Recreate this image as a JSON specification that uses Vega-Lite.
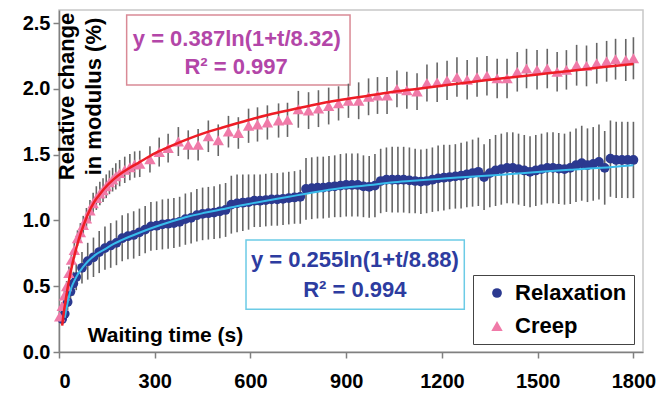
{
  "$schema": "https://vega.github.io/schema/vega-lite/v6.json",
  "width": 584,
  "height": 342,
  "autosize": {"type": "none"},
  "padding": {"left": 59, "top": 10, "right": 16, "bottom": 42},
  "background": "white",
  "config": {
    "view": {"stroke": "#c8c8c8", "strokeWidth": 1.5},
    "font": "Liberation Sans",
    "axis": {
      "grid": false,
      "domainColor": "#808080",
      "domainWidth": 1.5,
      "tickColor": "#808080",
      "tickWidth": 1.5,
      "tickSize": 6,
      "labelFont": "Liberation Sans",
      "labelFontWeight": "bold",
      "labelFontSize": 20,
      "labelColor": "#000000",
      "titleFont": "Liberation Sans",
      "titleFontWeight": "bold",
      "titleFontSize": 21,
      "titleColor": "#000000"
    }
  },
  "datasets": {
    "pts": [
      {"series": "Relaxation", "t": 10, "v": 0.25, "e": 0.04},
      {"series": "Relaxation", "t": 18, "v": 0.29, "e": 0.05},
      {"series": "Relaxation", "t": 27, "v": 0.38, "e": 0.06},
      {"series": "Relaxation", "t": 36, "v": 0.46, "e": 0.08},
      {"series": "Relaxation", "t": 45, "v": 0.52, "e": 0.09},
      {"series": "Relaxation", "t": 54, "v": 0.57, "e": 0.10},
      {"series": "Relaxation", "t": 72, "v": 0.64, "e": 0.12},
      {"series": "Relaxation", "t": 90, "v": 0.69, "e": 0.14},
      {"series": "Relaxation", "t": 108, "v": 0.72, "e": 0.15},
      {"series": "Relaxation", "t": 126, "v": 0.76, "e": 0.16},
      {"series": "Relaxation", "t": 144, "v": 0.79, "e": 0.165},
      {"series": "Relaxation", "t": 162, "v": 0.81, "e": 0.17},
      {"series": "Relaxation", "t": 180, "v": 0.83, "e": 0.17},
      {"series": "Relaxation", "t": 198, "v": 0.865, "e": 0.175},
      {"series": "Relaxation", "t": 216, "v": 0.88, "e": 0.175},
      {"series": "Relaxation", "t": 234, "v": 0.89, "e": 0.18},
      {"series": "Relaxation", "t": 252, "v": 0.91, "e": 0.18},
      {"series": "Relaxation", "t": 270, "v": 0.93, "e": 0.18},
      {"series": "Relaxation", "t": 288, "v": 0.955, "e": 0.185},
      {"series": "Relaxation", "t": 306, "v": 0.96, "e": 0.185},
      {"series": "Relaxation", "t": 324, "v": 0.97, "e": 0.19},
      {"series": "Relaxation", "t": 342, "v": 0.975, "e": 0.19},
      {"series": "Relaxation", "t": 360, "v": 0.98, "e": 0.19},
      {"series": "Relaxation", "t": 378, "v": 0.99, "e": 0.19},
      {"series": "Relaxation", "t": 396, "v": 1.01, "e": 0.195},
      {"series": "Relaxation", "t": 414, "v": 1.02, "e": 0.195},
      {"series": "Relaxation", "t": 432, "v": 1.04, "e": 0.2},
      {"series": "Relaxation", "t": 450, "v": 1.05, "e": 0.2},
      {"series": "Relaxation", "t": 468, "v": 1.055, "e": 0.2},
      {"series": "Relaxation", "t": 486, "v": 1.06, "e": 0.2},
      {"series": "Relaxation", "t": 504, "v": 1.07, "e": 0.205},
      {"series": "Relaxation", "t": 522, "v": 1.08, "e": 0.205},
      {"series": "Relaxation", "t": 540, "v": 1.12, "e": 0.22},
      {"series": "Relaxation", "t": 558, "v": 1.13, "e": 0.22},
      {"series": "Relaxation", "t": 576, "v": 1.135, "e": 0.215},
      {"series": "Relaxation", "t": 594, "v": 1.14, "e": 0.21},
      {"series": "Relaxation", "t": 612, "v": 1.15, "e": 0.2},
      {"series": "Relaxation", "t": 630, "v": 1.15, "e": 0.2},
      {"series": "Relaxation", "t": 648, "v": 1.155, "e": 0.2},
      {"series": "Relaxation", "t": 666, "v": 1.16, "e": 0.2},
      {"series": "Relaxation", "t": 684, "v": 1.16, "e": 0.2},
      {"series": "Relaxation", "t": 702, "v": 1.165, "e": 0.2},
      {"series": "Relaxation", "t": 720, "v": 1.17, "e": 0.2},
      {"series": "Relaxation", "t": 738, "v": 1.175, "e": 0.2},
      {"series": "Relaxation", "t": 756, "v": 1.18, "e": 0.205},
      {"series": "Relaxation", "t": 774, "v": 1.24, "e": 0.235},
      {"series": "Relaxation", "t": 792, "v": 1.245, "e": 0.235},
      {"series": "Relaxation", "t": 810, "v": 1.25, "e": 0.235},
      {"series": "Relaxation", "t": 828, "v": 1.25, "e": 0.235},
      {"series": "Relaxation", "t": 846, "v": 1.255, "e": 0.235},
      {"series": "Relaxation", "t": 864, "v": 1.26, "e": 0.235},
      {"series": "Relaxation", "t": 882, "v": 1.265, "e": 0.24},
      {"series": "Relaxation", "t": 900, "v": 1.27, "e": 0.24},
      {"series": "Relaxation", "t": 918, "v": 1.27, "e": 0.24},
      {"series": "Relaxation", "t": 936, "v": 1.27, "e": 0.24},
      {"series": "Relaxation", "t": 954, "v": 1.26, "e": 0.235},
      {"series": "Relaxation", "t": 972, "v": 1.255, "e": 0.235},
      {"series": "Relaxation", "t": 990, "v": 1.265, "e": 0.24},
      {"series": "Relaxation", "t": 1008, "v": 1.3, "e": 0.245},
      {"series": "Relaxation", "t": 1026, "v": 1.31, "e": 0.245},
      {"series": "Relaxation", "t": 1044, "v": 1.31, "e": 0.25},
      {"series": "Relaxation", "t": 1062, "v": 1.31, "e": 0.25},
      {"series": "Relaxation", "t": 1080, "v": 1.31, "e": 0.25},
      {"series": "Relaxation", "t": 1098, "v": 1.305, "e": 0.25},
      {"series": "Relaxation", "t": 1116, "v": 1.3, "e": 0.245},
      {"series": "Relaxation", "t": 1134, "v": 1.295, "e": 0.245},
      {"series": "Relaxation", "t": 1152, "v": 1.3, "e": 0.245},
      {"series": "Relaxation", "t": 1170, "v": 1.31, "e": 0.245},
      {"series": "Relaxation", "t": 1188, "v": 1.32, "e": 0.25},
      {"series": "Relaxation", "t": 1206, "v": 1.325, "e": 0.25},
      {"series": "Relaxation", "t": 1224, "v": 1.33, "e": 0.245},
      {"series": "Relaxation", "t": 1242, "v": 1.335, "e": 0.245},
      {"series": "Relaxation", "t": 1260, "v": 1.34, "e": 0.25},
      {"series": "Relaxation", "t": 1278, "v": 1.35, "e": 0.25},
      {"series": "Relaxation", "t": 1296, "v": 1.36, "e": 0.255},
      {"series": "Relaxation", "t": 1314, "v": 1.37, "e": 0.26},
      {"series": "Relaxation", "t": 1332, "v": 1.33, "e": 0.25},
      {"series": "Relaxation", "t": 1350, "v": 1.36, "e": 0.26},
      {"series": "Relaxation", "t": 1368, "v": 1.38, "e": 0.27},
      {"series": "Relaxation", "t": 1386, "v": 1.39, "e": 0.27},
      {"series": "Relaxation", "t": 1404, "v": 1.4, "e": 0.27},
      {"series": "Relaxation", "t": 1422, "v": 1.4, "e": 0.27},
      {"series": "Relaxation", "t": 1440, "v": 1.39, "e": 0.27},
      {"series": "Relaxation", "t": 1458, "v": 1.38, "e": 0.27},
      {"series": "Relaxation", "t": 1476, "v": 1.37, "e": 0.27},
      {"series": "Relaxation", "t": 1494, "v": 1.38, "e": 0.27},
      {"series": "Relaxation", "t": 1512, "v": 1.39, "e": 0.27},
      {"series": "Relaxation", "t": 1530, "v": 1.4, "e": 0.27},
      {"series": "Relaxation", "t": 1548, "v": 1.4, "e": 0.27},
      {"series": "Relaxation", "t": 1566, "v": 1.395, "e": 0.27},
      {"series": "Relaxation", "t": 1584, "v": 1.39, "e": 0.27},
      {"series": "Relaxation", "t": 1602, "v": 1.4, "e": 0.275},
      {"series": "Relaxation", "t": 1620, "v": 1.42, "e": 0.28},
      {"series": "Relaxation", "t": 1638, "v": 1.435, "e": 0.285},
      {"series": "Relaxation", "t": 1656, "v": 1.42, "e": 0.28},
      {"series": "Relaxation", "t": 1674, "v": 1.43, "e": 0.28},
      {"series": "Relaxation", "t": 1692, "v": 1.445, "e": 0.285},
      {"series": "Relaxation", "t": 1710, "v": 1.4, "e": 0.28},
      {"series": "Relaxation", "t": 1728, "v": 1.47, "e": 0.29},
      {"series": "Relaxation", "t": 1746, "v": 1.46, "e": 0.29},
      {"series": "Relaxation", "t": 1764, "v": 1.46, "e": 0.29},
      {"series": "Relaxation", "t": 1782, "v": 1.46, "e": 0.29},
      {"series": "Relaxation", "t": 1800, "v": 1.46, "e": 0.29},
      {"series": "Creep", "t": 2, "v": 0.27, "e": 0.03},
      {"series": "Creep", "t": 10, "v": 0.35, "e": 0.03},
      {"series": "Creep", "t": 17, "v": 0.43, "e": 0.04},
      {"series": "Creep", "t": 24, "v": 0.5, "e": 0.04},
      {"series": "Creep", "t": 31, "v": 0.6, "e": 0.05},
      {"series": "Creep", "t": 39, "v": 0.7, "e": 0.05},
      {"series": "Creep", "t": 48, "v": 0.775, "e": 0.06},
      {"series": "Creep", "t": 58, "v": 0.865, "e": 0.06},
      {"series": "Creep", "t": 67, "v": 0.91, "e": 0.07},
      {"series": "Creep", "t": 76, "v": 0.965, "e": 0.07},
      {"series": "Creep", "t": 86, "v": 1.015, "e": 0.08},
      {"series": "Creep", "t": 97, "v": 1.075, "e": 0.08},
      {"series": "Creep", "t": 107, "v": 1.13, "e": 0.08},
      {"series": "Creep", "t": 117, "v": 1.17, "e": 0.09},
      {"series": "Creep", "t": 128, "v": 1.205, "e": 0.09},
      {"series": "Creep", "t": 138, "v": 1.23, "e": 0.09},
      {"series": "Creep", "t": 148, "v": 1.26, "e": 0.09},
      {"series": "Creep", "t": 158, "v": 1.29, "e": 0.09},
      {"series": "Creep", "t": 168, "v": 1.31, "e": 0.09},
      {"series": "Creep", "t": 178, "v": 1.335, "e": 0.1},
      {"series": "Creep", "t": 190, "v": 1.36, "e": 0.1},
      {"series": "Creep", "t": 206, "v": 1.385, "e": 0.1},
      {"series": "Creep", "t": 222, "v": 1.405, "e": 0.1},
      {"series": "Creep", "t": 237, "v": 1.425, "e": 0.1},
      {"series": "Creep", "t": 253, "v": 1.43, "e": 0.1},
      {"series": "Creep", "t": 285, "v": 1.465, "e": 0.1},
      {"series": "Creep", "t": 314, "v": 1.52, "e": 0.11},
      {"series": "Creep", "t": 342, "v": 1.55, "e": 0.11},
      {"series": "Creep", "t": 374, "v": 1.6, "e": 0.11},
      {"series": "Creep", "t": 405, "v": 1.575, "e": 0.11},
      {"series": "Creep", "t": 436, "v": 1.575, "e": 0.12},
      {"series": "Creep", "t": 468, "v": 1.64, "e": 0.12},
      {"series": "Creep", "t": 499, "v": 1.61, "e": 0.12},
      {"series": "Creep", "t": 531, "v": 1.675, "e": 0.12},
      {"series": "Creep", "t": 562, "v": 1.665, "e": 0.12},
      {"series": "Creep", "t": 594, "v": 1.72, "e": 0.13},
      {"series": "Creep", "t": 622, "v": 1.73, "e": 0.13},
      {"series": "Creep", "t": 653, "v": 1.745, "e": 0.13},
      {"series": "Creep", "t": 688, "v": 1.76, "e": 0.13},
      {"series": "Creep", "t": 716, "v": 1.765, "e": 0.13},
      {"series": "Creep", "t": 750, "v": 1.845, "e": 0.14},
      {"series": "Creep", "t": 782, "v": 1.835, "e": 0.14},
      {"series": "Creep", "t": 813, "v": 1.85, "e": 0.14},
      {"series": "Creep", "t": 845, "v": 1.87, "e": 0.14},
      {"series": "Creep", "t": 876, "v": 1.89, "e": 0.13},
      {"series": "Creep", "t": 907, "v": 1.91, "e": 0.13},
      {"series": "Creep", "t": 939, "v": 1.91, "e": 0.14},
      {"series": "Creep", "t": 970, "v": 1.94, "e": 0.14},
      {"series": "Creep", "t": 998, "v": 1.95, "e": 0.14},
      {"series": "Creep", "t": 1028, "v": 1.95, "e": 0.14},
      {"series": "Creep", "t": 1059, "v": 2.0, "e": 0.14},
      {"series": "Creep", "t": 1090, "v": 1.99, "e": 0.14},
      {"series": "Creep", "t": 1122, "v": 1.98, "e": 0.14},
      {"series": "Creep", "t": 1153, "v": 2.045, "e": 0.14},
      {"series": "Creep", "t": 1185, "v": 2.05, "e": 0.15},
      {"series": "Creep", "t": 1216, "v": 2.065, "e": 0.15},
      {"series": "Creep", "t": 1247, "v": 2.09, "e": 0.15},
      {"series": "Creep", "t": 1279, "v": 2.07, "e": 0.15},
      {"series": "Creep", "t": 1310, "v": 2.09, "e": 0.15},
      {"series": "Creep", "t": 1341, "v": 2.1, "e": 0.15},
      {"series": "Creep", "t": 1373, "v": 2.08, "e": 0.15},
      {"series": "Creep", "t": 1404, "v": 2.08, "e": 0.15},
      {"series": "Creep", "t": 1436, "v": 2.13, "e": 0.15},
      {"series": "Creep", "t": 1465, "v": 2.155, "e": 0.15},
      {"series": "Creep", "t": 1498, "v": 2.145, "e": 0.15},
      {"series": "Creep", "t": 1530, "v": 2.155, "e": 0.15},
      {"series": "Creep", "t": 1561, "v": 2.13, "e": 0.15},
      {"series": "Creep", "t": 1590, "v": 2.145, "e": 0.15},
      {"series": "Creep", "t": 1622, "v": 2.18, "e": 0.155},
      {"series": "Creep", "t": 1653, "v": 2.175, "e": 0.155},
      {"series": "Creep", "t": 1685, "v": 2.195, "e": 0.155},
      {"series": "Creep", "t": 1716, "v": 2.21, "e": 0.155},
      {"series": "Creep", "t": 1744, "v": 2.226, "e": 0.155},
      {"series": "Creep", "t": 1776, "v": 2.22, "e": 0.16},
      {"series": "Creep", "t": 1800, "v": 2.233, "e": 0.16}
    ],
    "fitCreep": [
      {"t": 10, "v": 0.2}, {"t": 15, "v": 0.3}, {"t": 20, "v": 0.38}, {"t": 28, "v": 0.5},
      {"t": 35, "v": 0.59}, {"t": 42, "v": 0.67}, {"t": 50, "v": 0.75}, {"t": 60, "v": 0.84},
      {"t": 75, "v": 0.95}, {"t": 91, "v": 1.05}, {"t": 110, "v": 1.14}, {"t": 125, "v": 1.19},
      {"t": 143, "v": 1.245}, {"t": 170, "v": 1.31}, {"t": 196, "v": 1.36}, {"t": 225, "v": 1.405},
      {"t": 250, "v": 1.44}, {"t": 300, "v": 1.51}, {"t": 350, "v": 1.565}, {"t": 405, "v": 1.62},
      {"t": 450, "v": 1.66}, {"t": 510, "v": 1.705}, {"t": 560, "v": 1.74}, {"t": 604, "v": 1.77},
      {"t": 660, "v": 1.805}, {"t": 724, "v": 1.84}, {"t": 800, "v": 1.88}, {"t": 881, "v": 1.915},
      {"t": 960, "v": 1.945}, {"t": 1038, "v": 1.975}, {"t": 1120, "v": 2.0}, {"t": 1216, "v": 2.03},
      {"t": 1300, "v": 2.055}, {"t": 1404, "v": 2.085}, {"t": 1500, "v": 2.11}, {"t": 1613, "v": 2.14},
      {"t": 1700, "v": 2.165}, {"t": 1800, "v": 2.19}
    ],
    "fitRelax": [
      {"t": 18, "v": 0.26}, {"t": 25, "v": 0.35}, {"t": 32, "v": 0.43}, {"t": 39, "v": 0.49},
      {"t": 50, "v": 0.55}, {"t": 60, "v": 0.595}, {"t": 75, "v": 0.645}, {"t": 91, "v": 0.69},
      {"t": 115, "v": 0.74}, {"t": 143, "v": 0.78}, {"t": 170, "v": 0.82}, {"t": 196, "v": 0.85},
      {"t": 250, "v": 0.905}, {"t": 300, "v": 0.95}, {"t": 350, "v": 0.99}, {"t": 405, "v": 1.03},
      {"t": 460, "v": 1.06}, {"t": 510, "v": 1.085}, {"t": 560, "v": 1.11}, {"t": 604, "v": 1.13},
      {"t": 720, "v": 1.18}, {"t": 800, "v": 1.215}, {"t": 881, "v": 1.245}, {"t": 960, "v": 1.265},
      {"t": 1050, "v": 1.29}, {"t": 1130, "v": 1.305}, {"t": 1216, "v": 1.32}, {"t": 1300, "v": 1.335},
      {"t": 1400, "v": 1.35}, {"t": 1509, "v": 1.37}, {"t": 1600, "v": 1.385}, {"t": 1700, "v": 1.4},
      {"t": 1800, "v": 1.42}
    ],
    "boxes": [
      {"grp": "creep", "t": 212, "t2": 912, "v": 2.562, "v2": 2.03},
      {"grp": "relax", "t": 586, "t2": 1270, "v": 0.851, "v2": 0.325}
    ],
    "notes": [
      {"grp": "creep", "t": 557, "v": 2.38, "label": "y = 0.387ln(1+t/8.32)"},
      {"grp": "creep", "t": 555, "v": 2.169, "label": "R² = 0.997"},
      {"grp": "relax", "t": 927, "v": 0.7, "label": "y = 0.255ln(1+t/8.88)"},
      {"grp": "relax", "t": 927, "v": 0.471, "label": "R² = 0.994"}
    ]
  },
  "encoding": {
    "x": {
      "field": "t",
      "type": "quantitative",
      "scale": {"domain": [0, 1830], "nice": false, "zero": false},
      "axis": {
        "values": [0, 300, 600, 900, 1200, 1500, 1800],
        "format": "d",
        "labelPadding": 13,
        "title": "Waiting time (s)",
        "titleX": 106,
        "titleY": -17,
        "titleAlign": "center",
        "titleBaseline": "middle",
        "titleAnchor": null
      }
    },
    "y": {
      "field": "v",
      "type": "quantitative",
      "scale": {"domain": [0, 2.6], "nice": false},
      "axis": {
        "values": [0, 0.5, 1, 1.5, 2, 2.5],
        "format": ".1f",
        "labelPadding": 3,
        "title": ["Relative change", "in modulus (%)"],
        "titleAngle": -90,
        "titleX": 7,
        "titleY": 86,
        "titleFontSize": 22,
        "titleAlign": "center",
        "titleBaseline": "middle",
        "titleLineHeight": 27,
        "titleAnchor": null
      }
    }
  },
  "layer": [
    {
      "data": {"name": "boxes"},
      "mark": {"type": "rect", "fill": "white", "strokeWidth": 1.5},
      "encoding": {
        "x2": {"field": "t2"},
        "y2": {"field": "v2"},
        "stroke": {"field": "grp", "type": "nominal", "scale": {"domain": ["creep", "relax"], "range": ["#d98a96", "#6ccbe6"]}, "legend": null}
      }
    },
    {
      "data": {"name": "pts"},
      "mark": {"type": "errorbar", "color": "#666666", "thickness": 1.6},
      "encoding": {
        "yError": {"field": "e"}
      }
    },
    {
      "data": {"name": "pts"},
      "mark": {"type": "point", "filled": true, "opacity": 1},
      "encoding": {
        "size": {
          "field": "series",
          "type": "nominal",
          "scale": {"domain": ["Relaxation", "Creep"], "range": [95, 130]},
          "legend": null
        },
        "color": {
          "field": "series",
          "type": "nominal",
          "scale": {"domain": ["Relaxation", "Creep"], "range": ["#2b3990", "#f07aa8"]},
          "legend": {
            "title": null,
            "orient": "none",
            "legendX": 414,
            "legendY": 265,
            "strokeColor": "#444444",
            "padding": 7,
            "symbolOffset": 6,
            "labelOffset": 7,
            "labelFont": "Liberation Sans",
            "labelFontSize": 22,
            "labelFontWeight": "bold",
            "labelColor": "#000000",
            "symbolSize": 65,
            "rowPadding": 11
          }
        },
        "shape": {
          "field": "series",
          "type": "nominal",
          "scale": {"domain": ["Relaxation", "Creep"], "range": ["circle", "triangle-up"]},
          "legend": {
            "title": null,
            "orient": "none",
            "legendX": 414,
            "legendY": 265,
            "strokeColor": "#444444",
            "padding": 7,
            "symbolOffset": 6,
            "labelOffset": 7,
            "labelFont": "Liberation Sans",
            "labelFontSize": 22,
            "labelFontWeight": "bold",
            "labelColor": "#000000",
            "symbolSize": 65,
            "rowPadding": 11
          }
        }
      }
    },
    {
      "data": {"name": "fitRelax"},
      "mark": {"type": "line", "color": "#38bcec", "strokeWidth": 2, "interpolate": "monotone"},
      "encoding": {}
    },
    {
      "data": {"name": "fitCreep"},
      "mark": {"type": "line", "color": "#ee1c25", "strokeWidth": 2.5, "interpolate": "monotone"},
      "encoding": {}
    },
    {
      "data": {"name": "notes"},
      "transform": [{"filter": "datum.grp === 'creep'"}],
      "mark": {"type": "text", "font": "Liberation Sans", "fontWeight": "bold", "fontSize": 22, "color": "#b346a8", "align": "center", "baseline": "middle"},
      "encoding": {"text": {"field": "label"}}
    },
    {
      "data": {"name": "notes"},
      "transform": [{"filter": "datum.grp === 'relax'"}],
      "mark": {"type": "text", "font": "Liberation Sans", "fontWeight": "bold", "fontSize": 22, "color": "#2d3ca0", "align": "center", "baseline": "middle"},
      "encoding": {"text": {"field": "label"}}
    }
  ]
}
